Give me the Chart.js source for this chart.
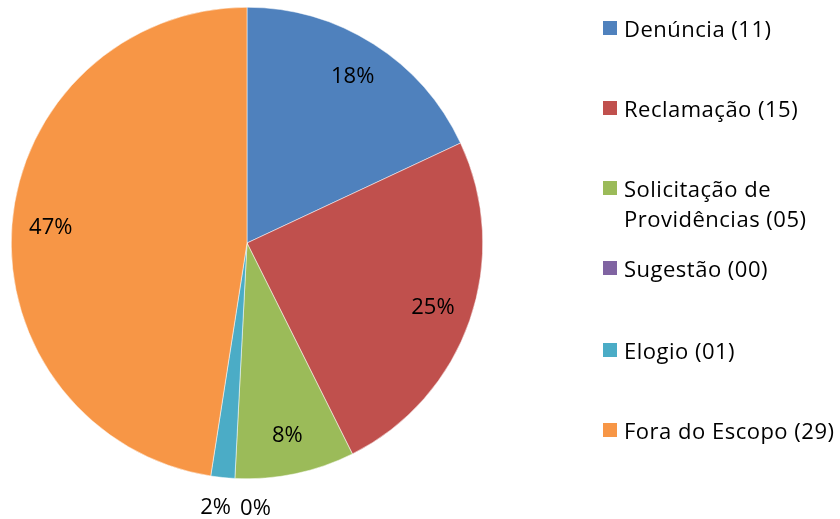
<!DOCTYPE html>
<html>
<head>
<meta charset="utf-8">
<script src="https://cdn.jsdelivr.net/npm/chart.js@4"></script>
<style>
    html, body { margin: 0; padding: 0; background: #fff; }
    #wrap { position: relative; width: 840px; height: 519px; }
    #pieChart { position: absolute; left: 0; top: 0; }
    #legend { position: absolute; left: 603px; top: 0; font-family: 'Open Sans', sans-serif; font-size: 22px; letter-spacing: 0.5px; color: #000; }
    .item { position: absolute; left: 0; white-space: nowrap; line-height: 30px; }
    .box { position: absolute; left: 0; top: 8px; width: 14px; height: 14px; }
    .txt { position: absolute; left: 21px; top: 0; }
</style>
</head>
<body>
<div id="wrap">
    <canvas id="pieChart" width="840" height="519"></canvas>
    <div id="legend"></div>
</div>
<script>
var categories = ['Denúncia (11)', 'Reclamação (15)', 'Solicitação de|Providências (05)', 'Sugestão (00)', 'Elogio (01)', 'Fora do Escopo (29)'];
var counts = [11, 15, 5, 0, 1, 29];
var pctLabels = ['18%', '25%', '8%', '0%', '2%', '47%'];
var colors = ['#4F81BD', '#C0504D', '#9BBB59', '#8064A2', '#4BACC6', '#F79646'];
var legendRows = [13, 93, 173, 253, 335, 415];

// legend built as html so the text can wrap like the original
var legend = document.getElementById('legend');
categories.forEach(function (cat, i) {
    var item = document.createElement('div');
    item.className = 'item';
    item.style.top = legendRows[i] + 'px';
    var box = document.createElement('div');
    box.className = 'box';
    box.style.background = colors[i];
    var txt = document.createElement('div');
    txt.className = 'txt';
    txt.innerHTML = cat.split('|').join('<br>');
    item.appendChild(box);
    item.appendChild(txt);
    legend.appendChild(item);
});

// percent labels: inside for big slices, outside below for tiny ones
const pctPlugin = {
    id: 'pctLabels',
    afterDatasetsDraw(chart) {
        const ctx = chart.ctx;
        const arcs = chart.getDatasetMeta(0).data;
        ctx.save();
        ctx.font = '22px "Open Sans", sans-serif';
        ctx.fillStyle = '#000';
        ctx.textAlign = 'center';
        ctx.textBaseline = 'middle';
        var lastRight = null;
        var outside = [];
        arcs.forEach(function (arc, i) {
            const p = arc.getProps(['x', 'y', 'startAngle', 'endAngle', 'outerRadius'], true);
            const mid = (p.startAngle + p.endAngle) / 2;
            const frac = counts[i] / counts.reduce((a, b) => a + b, 0);
            if (frac > 0.05) {
                const r = p.outerRadius * 0.835;
                ctx.fillText(pctLabels[i], p.x + Math.cos(mid) * r, p.y + Math.sin(mid) * r);
            } else {
                const r = p.outerRadius + 30;
                outside.push({ i: i, x: p.x + Math.cos(mid) * r - 4, y: p.y + Math.sin(mid) * r });
            }
        });
        // place outside labels left to right without overlap
        outside.sort((a, b) => a.x - b.x);
        outside.forEach(function (o) {
            const w = ctx.measureText(pctLabels[o.i]).width;
            var x = o.x;
            if (lastRight !== null && x - w / 2 < lastRight + 9) x = lastRight + 9 + w / 2;
            ctx.fillText(pctLabels[o.i], x, o.y);
            lastRight = x + w / 2;
        });
        ctx.restore();
    }
};

new Chart(document.getElementById('pieChart').getContext('2d'), {
    type: 'pie',
    data: {
        labels: categories,
        datasets: [{
            data: counts,
            backgroundColor: colors,
            borderColor: '#ffffff',
            borderWidth: 0.5
        }]
    },
    options: {
        responsive: false,
        animation: false,
        layout: { padding: { left: 11, top: 7, right: 357, bottom: 40 } },
        plugins: {
            legend: { display: false },
            tooltip: { enabled: false }
        }
    },
    plugins: [pctPlugin]
});
</script>
</body>
</html>
